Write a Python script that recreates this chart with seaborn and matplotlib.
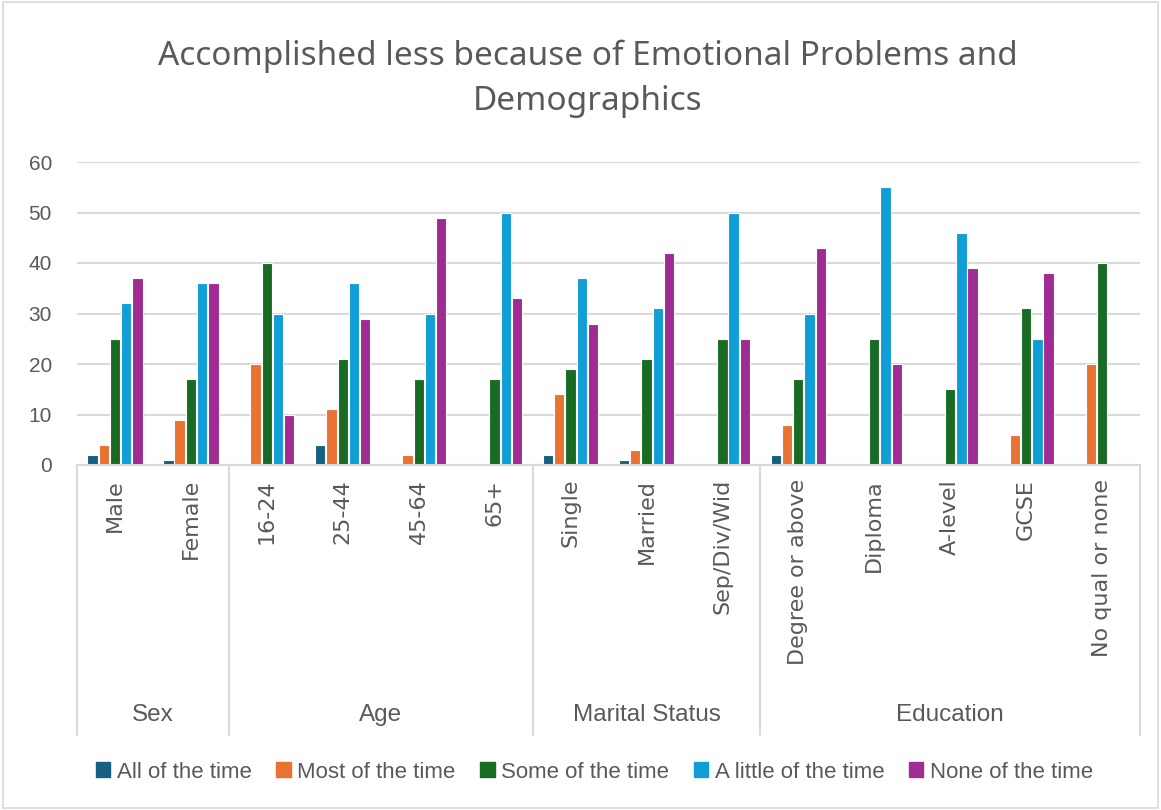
import numpy as np
import pandas as pd
import matplotlib
matplotlib.use("Agg")
import matplotlib.pyplot as plt
import matplotlib.transforms as mtransforms
from matplotlib.patches import Rectangle
import seaborn as sns

# ---------------------------------------------------------------------------
# Data
# ---------------------------------------------------------------------------
categories = ['Male', 'Female',
              '16-24', '25-44', '45-64', '65+',
              'Single', 'Married', 'Sep/Div/Wid',
              'Degree or above', 'Diploma', 'A-level', 'GCSE', 'No qual or none']
groups = ['Sex', 'Age', 'Marital Status', 'Education']
group_sizes = [2, 4, 3, 5]

responses = ['All of the time', 'Most of the time', 'Some of the time',
             'A little of the time', 'None of the time']

all_time = [2, 1, 0, 4, 0, 0, 2, 1, 0, 2, 0, 0, 0, 0]
most_time = [4, 9, 20, 11, 2, 0, 14, 3, 0, 8, 0, 0, 6, 20]
some_time = [25, 17, 40, 21, 17, 17, 19, 21, 25, 17, 25, 15, 31, 40]
little_time = [32, 36, 30, 36, 30, 50, 37, 31, 50, 30, 55, 46, 25, 0]
none_time = [37, 36, 10, 29, 49, 33, 28, 42, 25, 43, 20, 39, 38, 0]

colors = ['#156082', '#E97132', '#196B24', '#0F9ED5', '#A02B93']

df = pd.DataFrame({
    'category': categories * 5,
    'response': np.repeat(responses, len(categories)),
    'value': all_time + most_time + some_time + little_time + none_time,
})

# ---------------------------------------------------------------------------
# Plot
# ---------------------------------------------------------------------------
sns.set_style('white')
plt.rcParams['font.family'] = ['Liberation Sans', 'DejaVu Sans']
text_col = '#595959'
grid_col = '#d9d9d9'

fig = plt.figure(figsize=(11.61, 8.1), dpi=100)
ax = fig.add_axes([77 / 1161, 1 - 465 / 810, (1140 - 77) / 1161, 303 / 810])

sns.barplot(data=df, x='category', y='value', hue='response',
            order=categories, hue_order=responses, palette=colors,
            saturation=1, width=0.74, gap=0.08, edgecolor='white',
            linewidth=0.8, legend=False, ax=ax)

ax.set_xlim(-0.5, len(categories) - 0.5)
ax.set_ylim(0, 60)
ax.set_yticks(range(0, 61, 10))
ax.yaxis.grid(True, color=grid_col, linewidth=1.5)
ax.set_axisbelow(True)
for s in ['left', 'right', 'top']:
    ax.spines[s].set_visible(False)
ax.spines['bottom'].set_color(grid_col)
ax.spines['bottom'].set_linewidth(1.5)
ax.set_xlabel('')
ax.set_ylabel('')
ax.tick_params(axis='y', length=0, labelsize=15, labelcolor=text_col, pad=18)
ax.tick_params(axis='x', length=0, labelcolor=text_col, pad=10)
ax.set_xticks(range(len(categories)))
ax.set_xticklabels(categories, rotation=90, va='top', ha='center',
                   fontsize=16, family=['DejaVu Sans'])

# multi-level category axis: group separators and group labels
trans = mtransforms.blended_transform_factory(ax.transData, ax.transAxes)
bottom = -(735 - 465) / 303
edges = np.concatenate([[0], np.cumsum(group_sizes)]) - 0.5
for e in edges:
    ax.plot([e, e], [0, bottom], transform=trans, color=grid_col,
            linewidth=1.5, clip_on=False)
for g, lo, hi in zip(groups, edges[:-1], edges[1:]):
    ax.text((lo + hi) / 2, -(715 - 465) / 303, g, transform=trans,
            ha='center', va='center', fontsize=17.5, color=text_col)

# title
fig.text(0.506, 1 - 79 / 810,
         'Accomplished less because of Emotional Problems and\nDemographics',
         ha='center', va='center', fontsize=24, color=text_col,
         linespacing=1.5, family=['Noto Sans', 'DejaVu Sans'])

# legend
handles = [Rectangle((0, 0), 1, 1, color=c) for c in colors]
leg = fig.legend(handles, responses, loc='center', ncol=5,
                 bbox_to_anchor=(0.512, 1 - 772 / 810), frameon=False,
                 handlelength=0.65, handleheight=0.65, handletextpad=0.3,
                 columnspacing=1.1, prop={'size': 16})
for t in leg.get_texts():
    t.set_color(text_col)

# chart border
fig.patches.append(Rectangle((0.003, 0.003), 0.994, 0.994,
                             transform=fig.transFigure, fill=False,
                             edgecolor=grid_col, linewidth=1.2))

fig.savefig('out.png', dpi=100, facecolor='white')
